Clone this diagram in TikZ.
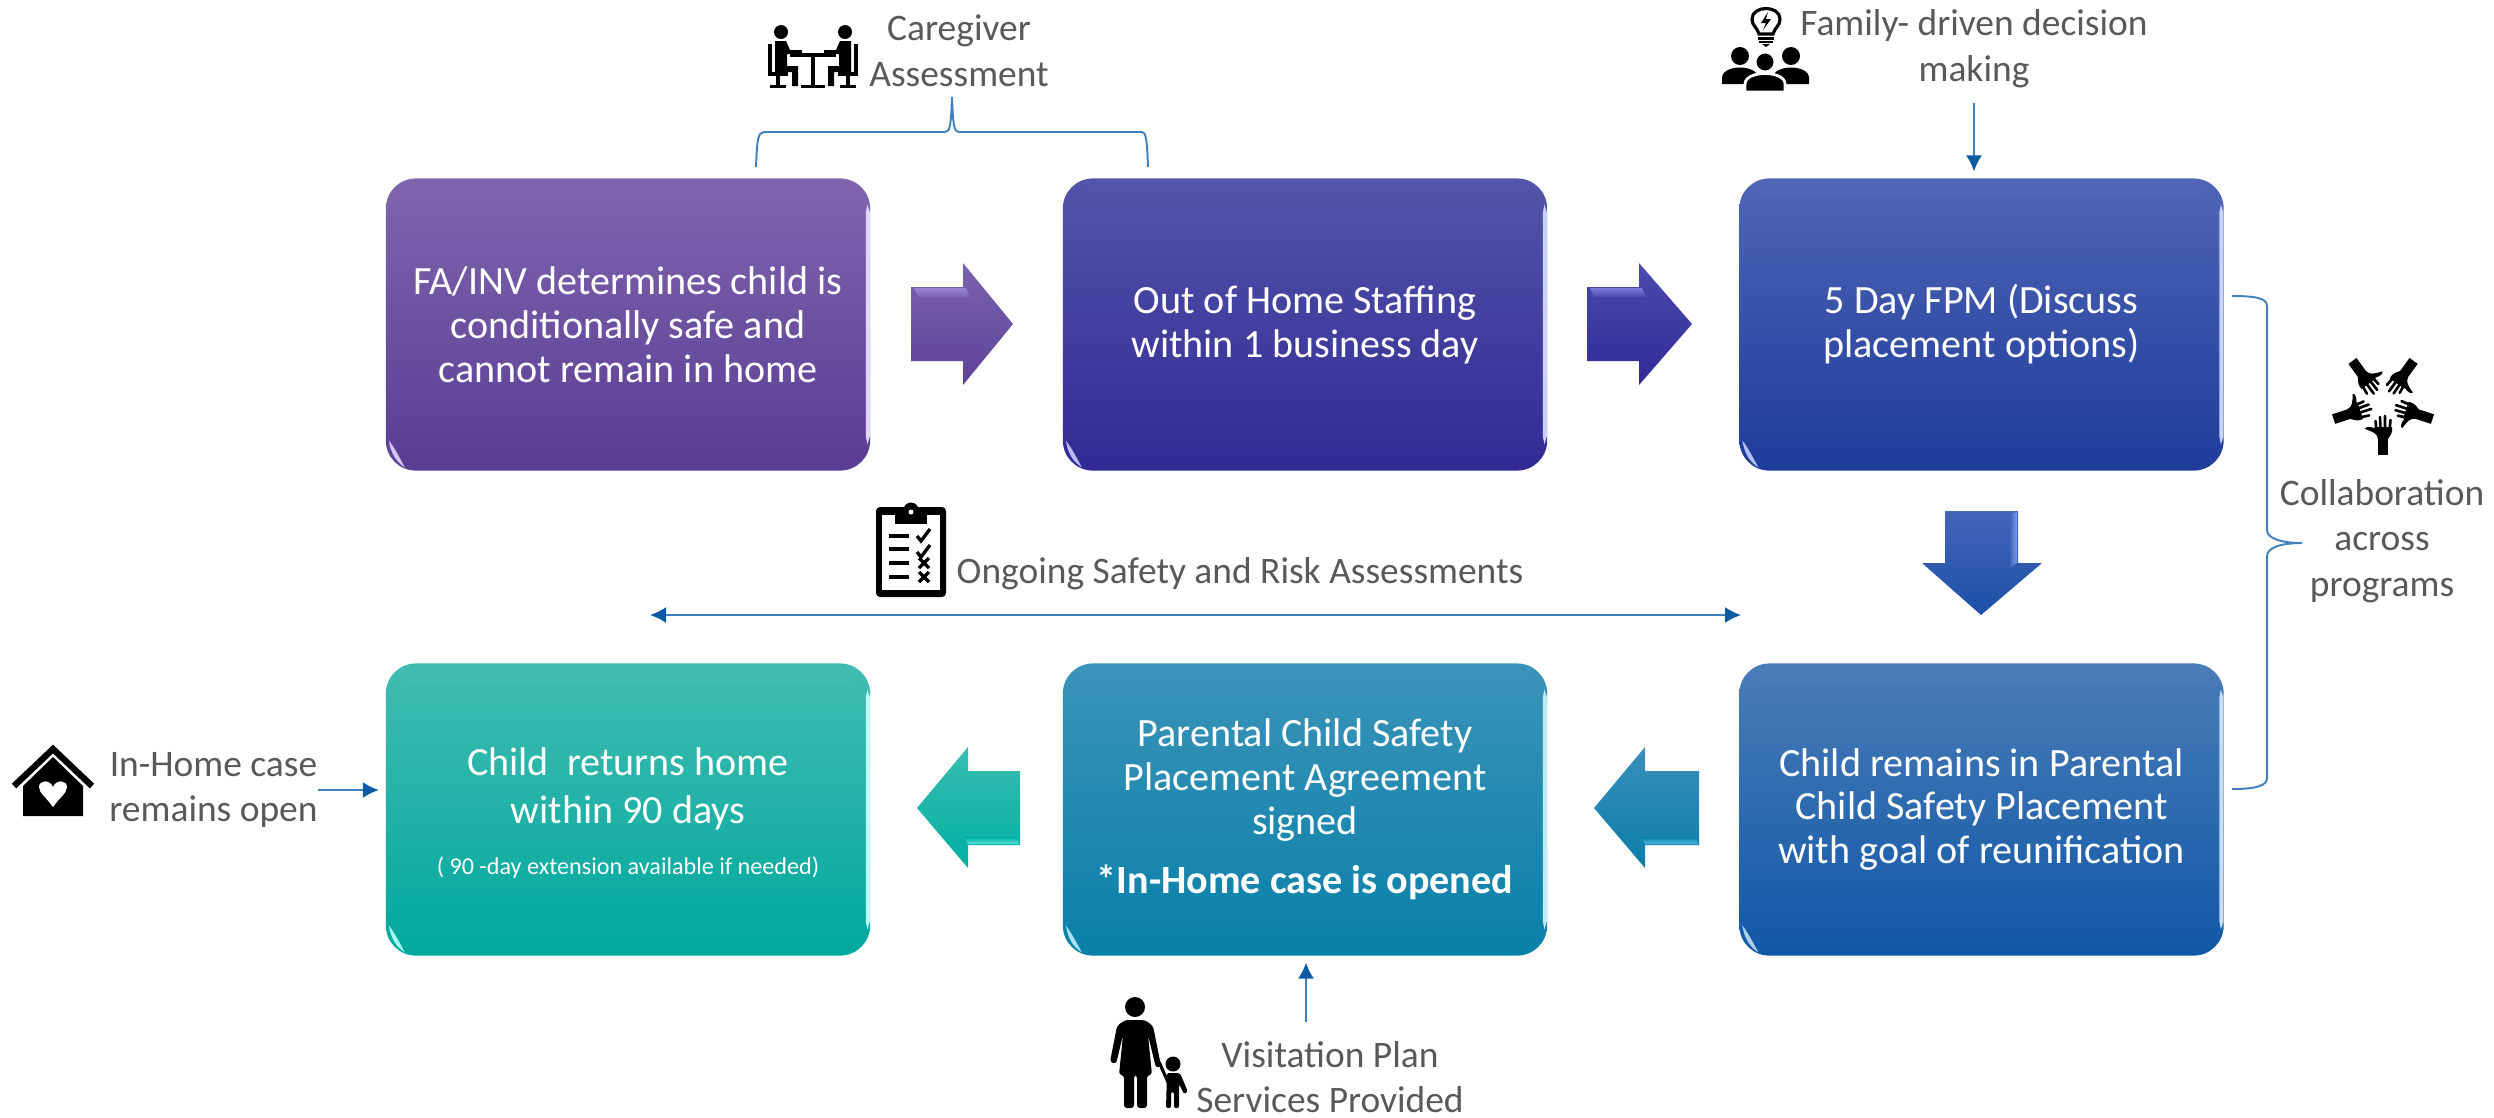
\documentclass[tikz,border=0pt]{standalone}
\usepackage{fontspec}
\setmainfont{Carlito}
\usetikzlibrary{arrows.meta}
\definecolor{labelgray}{HTML}{595959}
\definecolor{linkblue}{HTML}{3E7FBC}
\definecolor{headblue}{HTML}{0B5AA5}
\definecolor{bat}{HTML}{7F65AE}\definecolor{bab}{HTML}{5A3D94}\definecolor{bah}{HTML}{C3AEEA}
\definecolor{bbt}{HTML}{5355A9}\definecolor{bbb}{HTML}{322A95}\definecolor{bbh}{HTML}{9D9FF0}
\definecolor{bct}{HTML}{5065B5}\definecolor{bcb}{HTML}{1E3C9B}\definecolor{bch}{HTML}{8FA6F0}
\definecolor{bdt}{HTML}{4A7CB8}\definecolor{bdb}{HTML}{1058A6}\definecolor{bdh}{HTML}{8DBBEB}
\definecolor{bet}{HTML}{3C93B9}\definecolor{beb}{HTML}{0880A8}\definecolor{beh}{HTML}{7FD6F0}
\definecolor{bft}{HTML}{42BCB0}\definecolor{bfb}{HTML}{00A89E}\definecolor{bfh}{HTML}{80F5EE}
\definecolor{aat}{HTML}{7B62AE}\definecolor{aab}{HTML}{5E4398}\definecolor{aah}{HTML}{9C84D0}
\definecolor{abt}{HTML}{4A4AAE}\definecolor{abb}{HTML}{302A95}\definecolor{abh}{HTML}{7A7AD8}
\definecolor{act}{HTML}{4466B8}\definecolor{acb}{HTML}{1C50A8}\definecolor{ach}{HTML}{7A9CE8}
\definecolor{adt}{HTML}{3A8FBB}\definecolor{adb}{HTML}{0B7DAB}\definecolor{adh}{HTML}{4FB8E0}
\definecolor{aet}{HTML}{38BDB0}\definecolor{aeb}{HTML}{00AFA3}\definecolor{aeh}{HTML}{50E5D8}
\tikzset{
  x=0.01cm,y=-0.01cm,
  stepbox/.style={rectangle,rounded corners=0.3cm,minimum width=4.84cm,minimum height=2.92cm,inner sep=0pt,outer sep=0pt,
    text=white,align=center,font=\fontsize{11.4}{12.5}\selectfont},
  sidelabel/.style={text=labelgray,align=center,inner sep=0pt,outer sep=0pt,font=\fontsize{10.65}{13}\selectfont},
  link/.style={draw=linkblue,line width=0.55pt},
  flow/.style={link,-{Latex[length=0.16cm,width=0.16cm,color=headblue]}},
  flowboth/.style={link,{Latex[length=0.16cm,width=0.16cm,color=headblue]}-{Latex[length=0.16cm,width=0.16cm,color=headblue]}},
}
% highlights on a step box
\newcommand{\boxshine}[3]{%
  \begin{scope}[shift={(#1.north west)}]
    \shade[top color=#3,middle color=#2!85!white,bottom color=#3] (18,3) rectangle (466,19);
    \fill[#2!50!white] (481.5,26) -- (484,34) -- (484,258) -- (481.5,266) -- (480,258) -- (480,34) -- cycle;
    \fill[#2!70!white] (3,262) .. controls (5,275) and (10,283) .. (19,289) .. controls (13,278) and (9,270) .. (3,262) -- cycle;
  \end{scope}}
% right-pointing block arrow: #1 left x, #2 base x, #3 tip x
\newcommand{\rightblock}[5]{%
  \shade[top color=#4,bottom color=#5] (#1,287) -- (#2,287) -- (#2,263) -- (#3,324) -- (#2,385) -- (#2,361) -- (#1,361) -- cycle;}
\newcommand{\leftblock}[5]{%
  \shade[top color=#4,bottom color=#5] (#1,771) -- (#2,771) -- (#2,747) -- (#3,808) -- (#2,868) -- (#2,845) -- (#1,845) -- cycle;}
\newcommand{\handicon}[1]{%
  \begin{scope}[shift={(2383,403)},rotate=#1]
    \fill[black] (-5,34) rectangle (5,52);
    \fill[black] (-5,36) .. controls (-6,30) and (-10,29) .. (-18,26) .. controls (-18,24) and (-14,23) .. (-9,25)
      -- (-8,24) -- (9,24) .. controls (10,28) and (8,32) .. (5,36) -- cycle;
    \draw[black,line width=0.75pt,line cap=round] (-6.5,27) -- (-7.5,18) (-2.5,26) -- (-3,14) (2,26) -- (2,13) (6.5,27) -- (7.5,17);
  \end{scope}}
\begin{document}
\begin{tikzpicture}
\useasboundingbox (0,0) rectangle (2494,1117);

% ---------- step boxes
\node[stepbox,top color=bat,bottom color=bab] (b1) at (628,324.5) {FA/INV determines child is\\conditionally safe and\\cannot remain in home};
\node[stepbox,top color=bbt,bottom color=bbb] (b2) at (1305,324.5) {Out of Home Staffing\\within 1 business day};
\node[stepbox,top color=bct,bottom color=bcb] (b3) at (1981.5,324.5) {5 Day FPM (Discuss\\placement options)};
\node[stepbox,top color=bdt,bottom color=bdb] (b4) at (1981.5,809.5) {Child remains in Parental\\Child Safety Placement\\with goal of reunification};
\node[stepbox,top color=bet,bottom color=beb] (b5) at (1305,809.5) {Parental Child Safety\\Placement Agreement\\signed\\[4.2pt]{\bfseries *In-Home case is opened}};
\node[stepbox,top color=bft,bottom color=bfb] (b6) at (628,809.5) {\rule{0pt}{10pt}Child\ \ returns home\\[1pt]within 90 days\\[2.2pt]{\fontsize{6.87}{8}\selectfont ( 90 -day extension available if needed)}};

\boxshine{b1}{bah}{bat}
\boxshine{b2}{bbh}{bbt}
\boxshine{b3}{bch}{bct}
\boxshine{b4}{bdh}{bdt}
\boxshine{b5}{beh}{bet}
\boxshine{b6}{bfh}{bft}

% ---------- block arrows
\rightblock{911}{963}{1013}{aat}{aab}
\shade[top color=aah,bottom color=aat] (914,288) -- (966,288) -- (970,297) -- (918,297) -- cycle;
\rightblock{1587}{1639}{1692}{abt}{abb}
\shade[top color=abh,bottom color=abt] (1590,288) -- (1642,288) -- (1646,297) -- (1594,297) -- cycle;
\shade[top color=act,bottom color=acb] (1945,511) -- (2018,511) -- (2018,563) -- (2042,563) -- (1981,615) -- (1922,563) -- (1945,563) -- cycle;
\shade[left color=act,right color=ach] (2010,515) -- (2017,512) -- (2017,563) -- (2010,568) -- cycle;
\leftblock{1699}{1645}{1594}{adt}{adb}
\shade[top color=adb,bottom color=adh] (1641,837) -- (1696,837) -- (1698,844) -- (1645,844) -- cycle;
\leftblock{1020}{968}{917}{aet}{aeb}
\shade[top color=aeb,bottom color=aeh] (964,837) -- (1017,837) -- (1019,844) -- (968,844) -- cycle;

% ---------- side labels
\node[sidelabel] (care) at (959,51) {Caregiver\\Assessment};
\node[sidelabel] (fam) at (1974,49) {Family- driven decision\\making};
\node[sidelabel] (ongo) at (1240,574) {Ongoing Safety and Risk Assessments};
\node[sidelabel] (inhome) at (213.5,790) {In-Home case\\remains open};
\node[sidelabel] (visit) at (1330,1077) {Visitation Plan\\Services Provided};
\node[sidelabel] (collab) at (2382,541) {Collaboration\\across\\programs};

% ---------- connectors
\coordinate (braceTL) at (756,167);
\coordinate (braceTR) at (1148,167);
\draw[link] (braceTL) .. controls (757,140) and (758,132) .. (764,132) -- (945,132)
  .. controls (950,132) and (951,125) .. (952,97) .. controls (953,125) and (954,132) .. (959,132) -- (1142,132)
  .. controls (1146,132) and (1147,140) .. (braceTR);
\coordinate (famtop) at (1974,103);
\draw[flow,shorten >=0.07cm] (famtop) -- (famtop |- b3.north);
\draw[flow,shorten >=0.07cm] (inhome.east) -- (inhome.east -| b6.west);
\coordinate (visittop) at (1306,1022);
\draw[flow,shorten >=0.07cm] (visittop) -- (visittop |- b5.south);
\coordinate (ongoL) at (650,615);
\coordinate (ongoR) at (1741,615);
\draw[flowboth] (ongoL) -- (ongoR);
\coordinate (braceA) at (2232,296);
\coordinate (braceB) at (2232,789);
\draw[link] (braceA) .. controls (2255,296) and (2267,298) .. (2267,306) -- (2267,530)
  .. controls (2267,538) and (2280,543) .. (2302,543) .. controls (2280,543) and (2267,548) .. (2267,556) -- (2267,778)
  .. controls (2267,786) and (2255,789) .. (braceB);

% ---------- icon: two people at a table
\begin{scope}
  \fill[black] (790,53) rectangle (836,57);
  \fill[black] (811,57) rectangle (815,85);
  \fill[black] (801,85) rectangle (825,88);
  \foreach \s/\o in {1/0,-1/1626}{
    \begin{scope}[shift={(\o,0)},xscale=\s]
      \fill[black] (781,32) circle (7);
      \fill[black] (775,41) -- (786,41) -- (790,50) -- (802,50) -- (802,54) -- (787,54) -- (787,66) -- (798,66) -- (798,86) -- (792,86) -- (792,72) -- (775,72) -- cycle;
      \fill[black] (768,44) rectangle (772,72);
      \fill[black] (768,72) rectangle (788,76);
      \fill[black] (776,76) rectangle (780,85);
      \fill[black] (770,85) rectangle (786,88);
    \end{scope}}
\end{scope}

% ---------- icon: idea bulb and group
\begin{scope}
  \draw[black,line width=0.9pt,fill=white] (1759,34) .. controls (1757,27) and (1752,26) .. (1752,19) .. controls (1752,5) and (1780,5) .. (1780,19) .. controls (1780,26) and (1775,27) .. (1773,34) -- cycle;
  \fill[black] (1768,12) -- (1761,23) -- (1766,23) -- (1763,30) -- (1771,19) -- (1766,19) -- cycle;
  \fill[black] (1758,37) rectangle (1774,39.5);
  \fill[black] (1759,41) rectangle (1773,43);
  \fill[black] (1762,44) -- (1770,44) -- (1766,47) -- cycle;
  \fill[black] (1740,56) circle (9);
  \fill[black] (1791,56) circle (9);
  \fill[black] (1722,84) -- (1722,78) .. controls (1722,64) and (1758,64) .. (1758,78) -- (1758,84) -- cycle;
  \fill[black] (1773,84) -- (1773,78) .. controls (1773,64) and (1809,64) .. (1809,78) -- (1809,84) -- cycle;
  \draw[white,line width=0.8pt,fill=black] (1765,62) circle (10);
  \draw[white,line width=0.8pt,fill=black] (1745,92) -- (1745,84) .. controls (1745,70) and (1785,70) .. (1785,84) -- (1785,92) -- cycle;
\end{scope}

% ---------- icon: five hands
\foreach \k in {0,72,144,216,288}{\handicon{\k}}

% ---------- icon: clipboard
\begin{scope}
  \fill[black,rounded corners=0.04cm] (876,507) rectangle (946,597);
  \fill[white] (882,515) rectangle (940,590);
  \fill[black] (895,510) rectangle (927,524);
  \fill[black] (911,510) circle (7.5);
  \fill[white] (911,512) circle (2.5);
  \foreach \y in {536,549,563,577}{\fill[black] (889,\y-2) rectangle (909,\y+2);}
  \foreach \y in {536,552}{\draw[black,line width=0.95pt] (917,\y) -- (921,\y+5) -- (930,\y-7);}
  \foreach \y in {563,577}{\draw[black,line width=0.95pt] (919,\y-5) -- (929,\y+5) (929,\y-5) -- (919,\y+5);}
\end{scope}

% ---------- icon: house with heart
\begin{scope}
  \draw[black,line width=1.8pt,miter limit=10] (14,786) -- (53,749) -- (92,786);
  \fill[black] (23,816) -- (23,786) -- (53,757) -- (83,786) -- (83,816) -- cycle;
  \fill[white] (53,807) .. controls (46,797) and (39,793) .. (39,787) .. controls (39,780) and (50,779) .. (53,787)
    .. controls (56,779) and (67,780) .. (67,787) .. controls (67,793) and (60,797) .. (53,807) -- cycle;
\end{scope}

% ---------- icon: parent and child
\begin{scope}
  \fill[black] (1135,1007) circle (10);
  \fill[black,rounded corners=0.03cm] (1125,1020) -- (1145,1020) -- (1153,1026) -- (1161,1066) -- (1156,1068) -- (1148,1035)
     -- (1152,1075) -- (1147,1075) -- (1147,1108) -- (1137,1108) -- (1137,1075) -- (1134,1075) -- (1134,1108) -- (1124,1108) -- (1124,1075) -- (1119,1075)
     -- (1123,1035) -- (1116,1064) -- (1110,1062) -- (1117,1026) -- cycle;
  \fill[black] (1173,1064) circle (7.5);
  \draw[black,line width=0.9pt] (1159,1062) -- (1168,1082);
  \fill[black,rounded corners=0.02cm] (1167,1073) -- (1180,1073) -- (1188,1092) -- (1184,1094) -- (1179,1084) -- (1179,1108) -- (1174,1108) -- (1174,1092) -- (1171,1092) -- (1171,1108) -- (1166,1108) -- cycle;
\end{scope}
\end{tikzpicture}
\end{document}
